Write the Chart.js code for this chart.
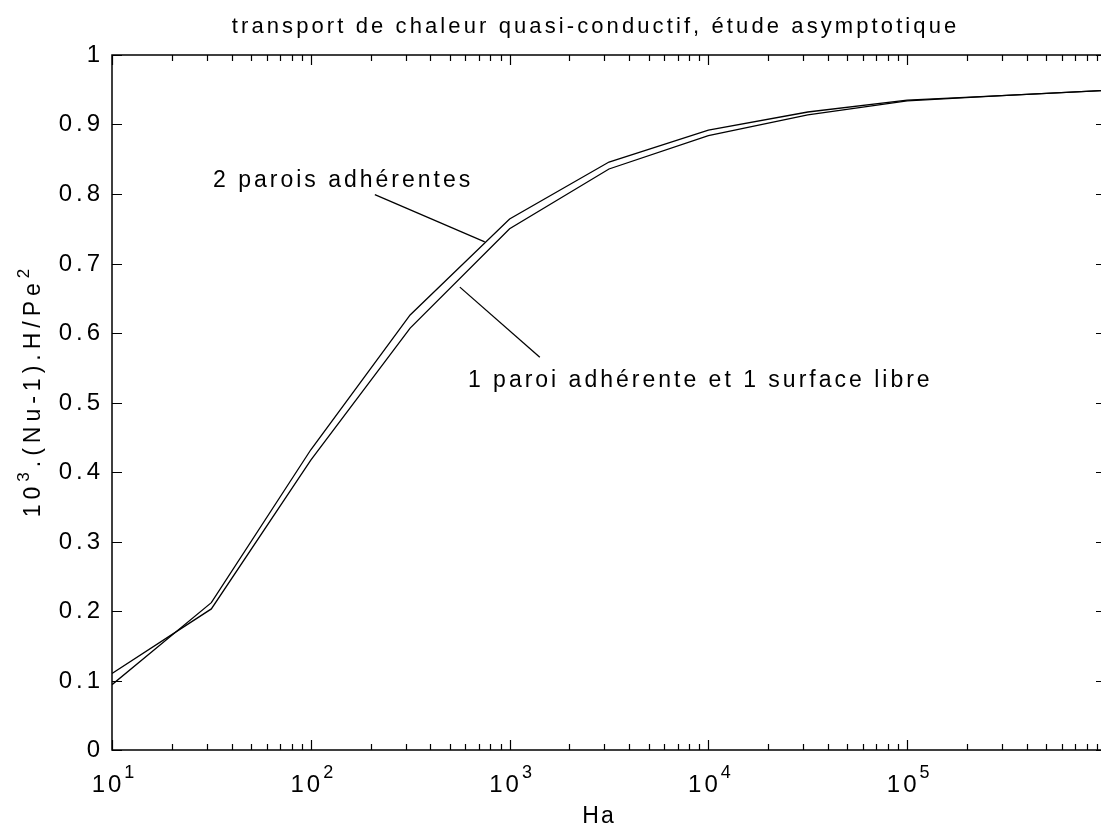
<!DOCTYPE html>
<html>
<head>
<meta charset="utf-8">
<script src="https://cdn.jsdelivr.net/npm/chart.js@4"></script>
<style>
    html, body { margin: 0; padding: 0; background: #fff; overflow: hidden; }
    #chart { display: block; }
</style>
</head>
<body>
<canvas id="chart" width="1110" height="832"></canvas>
<script>
// Ha, sampled every half decade
const haValues = [10, 31.6, 100, 316, 1000, 3162, 10000, 31623, 100000, 316228, 1000000];
const deuxParois = [0.094, 0.212, 0.432, 0.626, 0.764, 0.846, 0.892, 0.918, 0.935, 0.942, 0.949];
const uneParoi = [0.110, 0.203, 0.417, 0.607, 0.750, 0.836, 0.884, 0.914, 0.934, 0.942, 0.949];

const yTicks = [0, 0.1, 0.2, 0.3, 0.4, 0.5, 0.6, 0.7, 0.8, 0.9, 1];
const yTickLabels = ['0', '0.1', '0.2', '0.3', '0.4', '0.5', '0.6', '0.7', '0.8', '0.9', '1'];
const xExponents = [1, 2, 3, 4, 5];

const titleText = 'transport de chaleur quasi-conductif, étude asymptotique';
const xLabel = 'Ha';

// annotations: text anchor and leader line, in data units
const notes = [
    { text: '2 parois adhérentes', x: 32.2, y: 0.819, from: [210, 0.799], to: [750, 0.731] },
    { text: '1 paroi adhérente et 1 surface libre', x: 617, y: 0.532, from: [562, 0.666], to: [1419, 0.565] }
];

const FONT = '"Liberation Sans", Arial, sans-serif';

function toPoints(ys) {
    return haValues.map((x, i) => ({ x: x, y: ys[i] }));
}

// width of a string drawn with extra letter spacing
function spacedWidth(ctx, text, font, sp) {
    ctx.font = font;
    ctx.letterSpacing = '0px';
    return ctx.measureText(text).width + sp * (text.length - 1);
}

// draw a run of [text, size, rise] parts, spaced out like the old matlab screen font
function drawRuns(ctx, runs, x, y, sp, align) {
    const widths = runs.map(r => spacedWidth(ctx, r[0], r[1] + 'px ' + FONT, sp) + sp);
    const total = widths.reduce((s, w) => s + w, 0) - sp;
    let left = x;
    if (align === 'center') left = x - total / 2;
    if (align === 'right') left = x - total;
    ctx.textAlign = 'left';
    runs.forEach((r, i) => {
        ctx.font = r[1] + 'px ' + FONT;
        ctx.letterSpacing = sp + 'px';
        ctx.fillText(r[0], left, y + (r[2] || 0));
        left += widths[i];
    });
    ctx.letterSpacing = '0px';
}

const matlabAxes = {
    id: 'matlabAxes',
    afterDraw(chart) {
        const ctx = chart.ctx;
        const xs = chart.scales.x;
        const ys = chart.scales.y;
        const a = chart.chartArea;
        ctx.save();
        ctx.strokeStyle = '#000';
        ctx.fillStyle = '#000';

        // box
        ctx.lineWidth = 1.5;
        ctx.beginPath();
        ctx.rect(a.left, a.top, a.right - a.left, a.bottom - a.top);
        ctx.stroke();

        // y ticks, inward on both sides
        ctx.lineWidth = 1.2;
        yTicks.forEach((v, i) => {
            const py = Math.round(ys.getPixelForValue(v)) + 0.5;
            ctx.beginPath();
            ctx.moveTo(a.left, py); ctx.lineTo(a.left + 10, py);
            ctx.moveTo(a.right, py); ctx.lineTo(a.right - 10, py);
            ctx.stroke();
            ctx.textBaseline = 'middle';
            drawRuns(ctx, [[yTickLabels[i], 24]], a.left - 12, py, 4, 'right');
        });

        // x ticks, majors and minors
        for (let e = 1; e <= 5; e++) {
            for (let m = 1; m <= 9; m++) {
                const v = m * Math.pow(10, e);
                const px = Math.round(xs.getPixelForValue(v)) + 0.5;
                const len = m === 1 ? 10 : 6;
                ctx.beginPath();
                ctx.moveTo(px, a.bottom); ctx.lineTo(px, a.bottom - len);
                ctx.moveTo(px, a.top); ctx.lineTo(px, a.top + len);
                ctx.stroke();
            }
        }
        ctx.textBaseline = 'alphabetic';
        xExponents.forEach(e => {
            const px = xs.getPixelForValue(Math.pow(10, e));
            drawRuns(ctx, [['10', 24, 0], [String(e), 18, -14]], px + 1, a.bottom + 42, 3, 'center');
        });

        // title and axis labels
        drawRuns(ctx, [[titleText, 22]], 594, 33, 3.1, 'center');
        drawRuns(ctx, [[xLabel, 23]], 598, 823, 2, 'center');

        // y label, rotated, with superscripts
        ctx.save();
        ctx.translate(40, 393);
        ctx.rotate(-Math.PI / 2);
        drawRuns(ctx, [['10', 23, 0], ['3', 17, -11], ['.(Nu-1).H/Pe', 23, 0], ['2', 17, -11]], 0, 0, 5, 'center');
        ctx.restore();

        // annotations
        ctx.lineWidth = 1.3;
        notes.forEach(n => {
            ctx.beginPath();
            ctx.moveTo(xs.getPixelForValue(n.from[0]), ys.getPixelForValue(n.from[1]));
            ctx.lineTo(xs.getPixelForValue(n.to[0]), ys.getPixelForValue(n.to[1]));
            ctx.stroke();
            ctx.textBaseline = 'middle';
            drawRuns(ctx, [[n.text, 23]], xs.getPixelForValue(n.x), ys.getPixelForValue(n.y), 3, 'left');
        });
        ctx.restore();
    }
};

new Chart(document.getElementById('chart'), {
    type: 'line',
    data: {
        datasets: [
            {
                label: '2 parois adhérentes',
                data: toPoints(deuxParois),
                borderColor: '#000',
                borderWidth: 1.3,
                pointRadius: 0,
                tension: 0,
                fill: false
            },
            {
                label: '1 paroi adhérente et 1 surface libre',
                data: toPoints(uneParoi),
                borderColor: '#000',
                borderWidth: 1.3,
                pointRadius: 0,
                tension: 0,
                fill: false
            }
        ]
    },
    options: {
        responsive: false,
        animation: false,
        devicePixelRatio: 1,
        layout: { padding: { left: 112, top: 55, right: 4, bottom: 82 } },
        plugins: { legend: { display: false }, tooltip: { enabled: false }, title: { display: false } },
        scales: {
            x: { type: 'logarithmic', min: 10, max: 1000000, display: false },
            y: { type: 'linear', min: 0, max: 1, display: false }
        }
    },
    plugins: [matlabAxes]
});
</script>
</body>
</html>
